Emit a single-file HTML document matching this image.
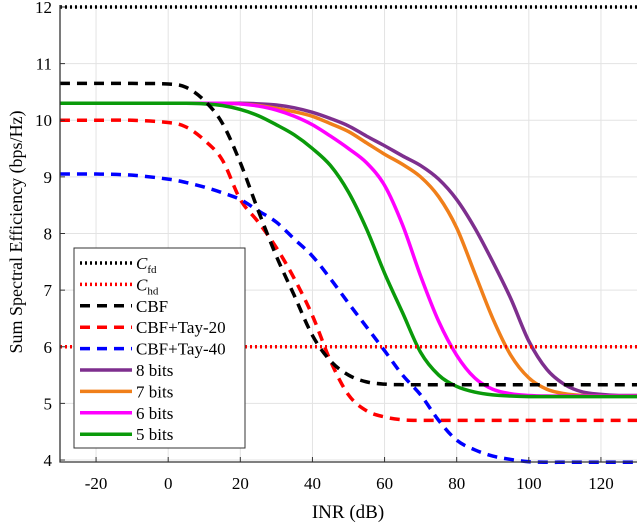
<!DOCTYPE html>
<html><head><meta charset="utf-8"><style>
body{margin:0;background:#fff}
svg{display:block;font-family:"Liberation Serif",serif}
</style></head><body>
<svg id="chart" width="640" height="525">
<g id="grid"></g>
<g id="series"></g>
<g id="axes"></g>
<text x="348" y="518" text-anchor="middle" font-size="19">INR (dB)</text>
<text transform="translate(22,232) rotate(-90)" text-anchor="middle" font-size="18">Sum Spectral Efficiency (bps/Hz)</text>
<g id="legend"></g>
</svg>
<script>
const xTicks=[-20,0,20,40,60,80,100,120];
const yTicks=[4,5,6,7,8,9,10,11,12];
const xs=[-30,-20,-10,0,5,10,15,20,25,30,35,40,45,50,55,60,65,70,75,80,85,90,95,100,105,110,115,120,125,130];
const cfd=12;
const chd=6;
const cbf=[10.65,10.65,10.65,10.64,10.58,10.35,9.95,9.25,8.4,7.6,6.9,6.2,5.75,5.5,5.38,5.34,5.33,5.33,5.33,5.33,5.33,5.33,5.33,5.33,5.33,5.33,5.33,5.33,5.33,5.33];
const tay20=[10.0,10.0,10.0,9.96,9.88,9.65,9.3,8.6,8.2,7.75,7.2,6.55,5.75,5.15,4.87,4.76,4.71,4.7,4.7,4.7,4.7,4.7,4.7,4.7,4.7,4.7,4.7,4.7,4.7,4.7];
const tay40=[9.05,9.05,9.03,8.96,8.9,8.82,8.72,8.6,8.4,8.2,7.9,7.6,7.2,6.77,6.35,5.93,5.5,5.15,4.7,4.35,4.18,4.07,4.01,3.97,3.96,3.96,3.96,3.96,3.96,3.96];
const b8=[10.3,10.3,10.3,10.3,10.3,10.3,10.3,10.3,10.29,10.27,10.22,10.14,10.03,9.9,9.72,9.55,9.37,9.2,8.96,8.6,8.1,7.5,6.85,6.1,5.6,5.33,5.2,5.16,5.14,5.14];
const b7=[10.3,10.3,10.3,10.3,10.3,10.3,10.3,10.29,10.26,10.21,10.15,10.07,9.94,9.8,9.6,9.4,9.22,9.0,8.65,8.1,7.3,6.5,5.85,5.45,5.25,5.17,5.14,5.13,5.13,5.13];
const b6=[10.3,10.3,10.3,10.3,10.3,10.3,10.3,10.29,10.25,10.18,10.07,9.92,9.72,9.5,9.25,8.85,8.15,7.25,6.45,5.85,5.45,5.25,5.17,5.14,5.13,5.13,5.13,5.13,5.13,5.13];
const b5=[10.3,10.3,10.3,10.3,10.3,10.29,10.26,10.19,10.08,9.92,9.74,9.5,9.2,8.73,8.08,7.3,6.6,5.9,5.5,5.3,5.2,5.15,5.13,5.12,5.12,5.12,5.12,5.12,5.12,5.12];
const legendLabels=["C_fd","C_hd","CBF","CBF+Tay-20","CBF+Tay-40","8 bits","7 bits","6 bits","5 bits"];

const L=60,R=637,T=5,B=462,xmin=-30,xmax=130,ymin=3.965,ymax=12.035;
const X=v=>L+(v-xmin)/(xmax-xmin)*(R-L);
const Y=v=>B-(v-ymin)/(ymax-ymin)*(B-T);
const NS="http://www.w3.org/2000/svg";
function mk(tag,attrs,parent){const e=document.createElementNS(NS,tag);for(const k in attrs)e.setAttribute(k,attrs[k]);parent.appendChild(e);return e;}
const grid=document.getElementById('grid'),axes=document.getElementById('axes'),ser=document.getElementById('series'),leg=document.getElementById('legend');
xTicks.forEach(t=>{
 const l=mk('line',{x1:X(t),x2:X(t),y1:T,y2:B,stroke:'#e3e3e3','stroke-width':1},grid);
 
 const k=mk('line',{x1:X(t),x2:X(t),y1:B,y2:B-5,stroke:'#333'},axes);
 
 const tx=mk('text',{x:X(t),y:B+27,'text-anchor':'middle','font-size':17},axes);tx.textContent=t;
 
});
yTicks.forEach(t=>{
 const l=mk('line',{x1:L,x2:R,y1:Y(t),y2:Y(t),stroke:'#e3e3e3','stroke-width':1},grid);
 
 const k=mk('line',{x1:L,x2:L+5,y1:Y(t),y2:Y(t),stroke:'#333'},axes);
 
 const tx=mk('text',{x:L-8,y:Y(t)+6,'text-anchor':'end','font-size':17},axes);tx.textContent=t;
 
});
const ax=mk('path',{d:`M${L},${T}V${B}H${R}`,fill:'none',stroke:'#333','stroke-width':1.3},axes);

function pathOf(vals){
 const p=xs.map((x,i)=>[X(x),Y(vals[i])]);let d=`M${p[0][0]},${p[0][1]}`;
 for(let i=0;i<p.length-1;i++){const p0=p[i-1]||p[i],p1=p[i],p2=p[i+1],p3=p[i+2]||p2;
  d+=`C${p1[0]+(p2[0]-p0[0])/6},${p1[1]+(p2[1]-p0[1])/6} ${p2[0]-(p3[0]-p1[0])/6},${p2[1]-(p3[1]-p1[1])/6} ${p2[0]},${p2[1]}`;}
 return d;}
const styles=[
 {name:'c-fd-line',color:'#000',dash:'2 3',w:3.5},
 {name:'c-hd-line',color:'#f00',dash:'2 3',w:3.5},
 {name:'cbf-line',color:'#000',dash:'10 7',w:3.5},
 {name:'cbf-tay20-line',color:'#f00',dash:'10 7',w:3.5},
 {name:'cbf-tay40-line',color:'#00f',dash:'10 7',w:3.5},
 {name:'bits8-line',color:'#7e2f8e',dash:'',w:3.5},
 {name:'bits7-line',color:'#f07f1a',dash:'',w:3.5},
 {name:'bits6-line',color:'#ff00ff',dash:'',w:3.5},
 {name:'bits5-line',color:'#0a9a0a',dash:'',w:3.5}];
const order=[[3,tay20],[4,tay40],[5,b8],[6,b7],[7,b6],[8,b5],[2,cbf]];
order.forEach(([i,v])=>{const s=styles[i];
 const p=mk('path',{d:pathOf(v),fill:'none',stroke:s.color,'stroke-width':s.w,'stroke-dasharray':s.dash},ser);
 });
[[0,cfd],[1,chd]].forEach(([i,v])=>{const s=styles[i];
 const p=mk('line',{x1:L,x2:R,y1:Y(v),y2:Y(v),stroke:s.color,'stroke-width':s.w,'stroke-dasharray':s.dash},ser);
 });
const box=mk('rect',{x:74,y:248,width:171,height:200,fill:'#fff',stroke:'#333','stroke-width':1},leg);

legendLabels.forEach((lab,i)=>{const s=styles[i],y=263+i*21.4;
 const ln=mk('line',{x1:80,x2:132,y1:y,y2:y,stroke:s.color,'stroke-width':s.w,'stroke-dasharray':s.dash},leg);
 
 const t=mk('text',{x:136,y:y+6,'font-size':17},leg);
 
 if(lab.startsWith('C_')){t.innerHTML=`<tspan font-style="italic">C</tspan><tspan font-size="11" dy="4">${lab.slice(2)}</tspan>`;}
 else t.textContent=lab;
});
</script>
</body></html>
